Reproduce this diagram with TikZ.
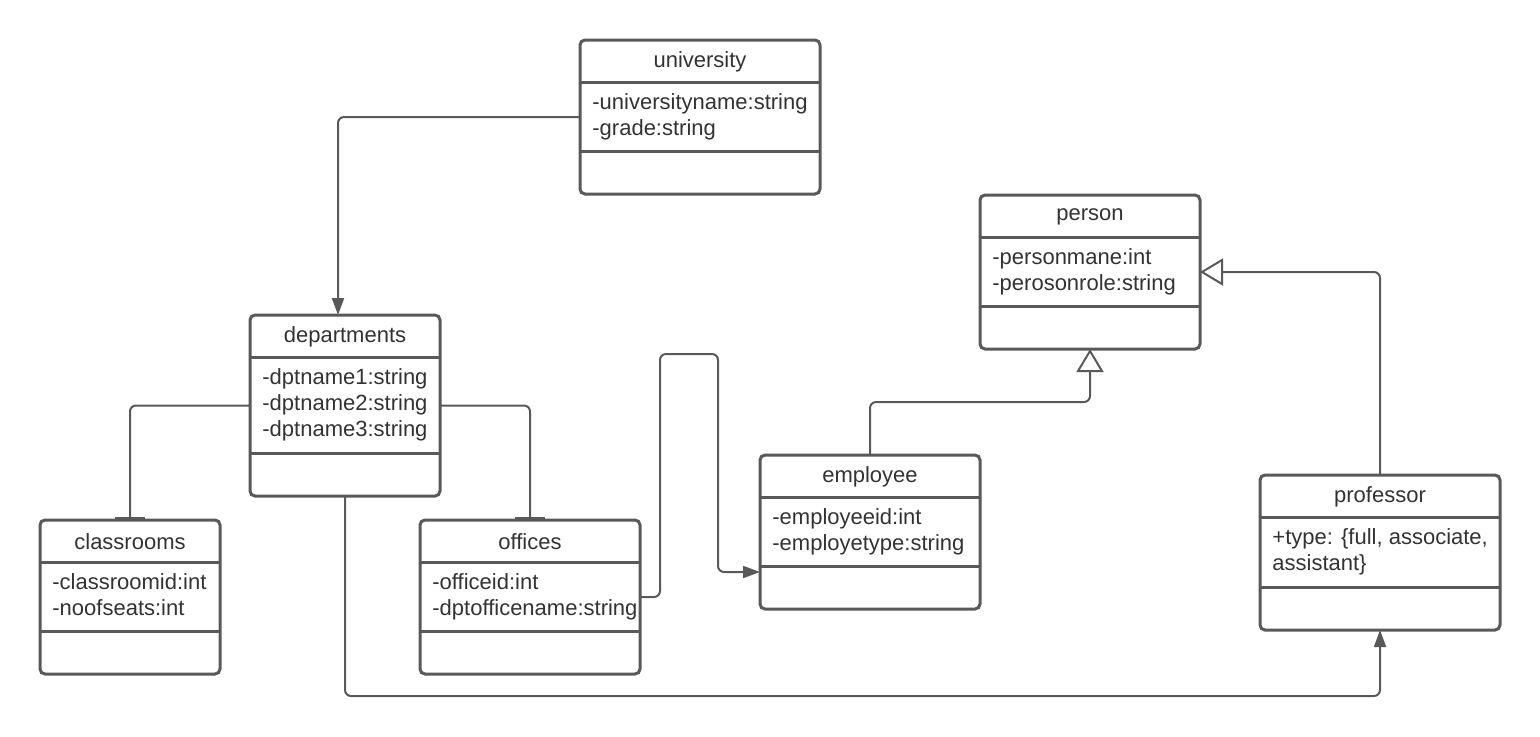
\documentclass[tikz,border=0pt]{standalone}
\usepackage{fontspec}
\setmainfont{Liberation Sans}
\usetikzlibrary{arrows.meta,calc}

\definecolor{umlgray}{HTML}{595959}
\definecolor{umltext}{HTML}{333333}

% one class box: name, left, top, width, attribute height, title, attributes
\newcommand{\umlclass}[7]{%
    \node[classbox, minimum width=#4*0.5pt, minimum height=(85+#5)*0.5pt, anchor=north west] (#1) at (#2,#3) {};
    \draw[classline] (#2,#3+42) -- (#2+#4,#3+42);
    \draw[classline] (#2,#3+42+#5) -- (#2+#4,#3+42+#5);
    \node[classtitle] (#1-title) at (#2+#4/2,#3+22) {#6};
    \node[classattr] (#1-attr) at (#2+12,#3+53) {#7};
}

\begin{document}
\begin{tikzpicture}[x=0.5pt, y=-0.5pt,
    font=\fontsize{11}{13}\selectfont, text=umltext,
    classbox/.style={draw=umlgray, line width=1.5pt, rounded corners=2.5pt, fill=white, inner sep=0pt, outer sep=0pt},
    classline/.style={draw=umlgray, line width=1.5pt},
    classtitle/.style={inner sep=0pt},
    classattr/.style={anchor=north west, align=left, inner sep=0pt},
    link/.style={draw=umlgray, line width=1pt, rounded corners=3pt},
    assoc/.style={link, -{Triangle[length=8.5pt, width=6pt]}},
    compose/.style={link, -{Bar[width=15pt, line width=1.5pt]}},
    inherit/.style={link, -{Triangle[open, length=11.5pt, width=13.5pt, line width=1pt]}}]

    \useasboundingbox (0,0) rectangle (1540,736);

    % Classes
    \umlclass{university}{580}{40}{240}{69}{university}{-universityname:string\\-grade:string}
    \umlclass{person}{980}{195}{220}{69}{person}{-personmane:int\\-perosonrole:string}
    \umlclass{departments}{250}{315}{190}{96}{departments}{-dptname1:string\\-dptname2:string\\-dptname3:string}
    \umlclass{classrooms}{40}{520}{180}{69}{classrooms}{-classroomid:int\\-noofseats:int}
    \umlclass{offices}{420}{520}{220}{69}{offices}{-officeid:int\\-dptofficename:string}
    \umlclass{employee}{760}{455}{220}{69}{employee}{-employeeid:int\\-employetype:string}
    \umlclass{professor}{1260}{475}{240}{70}{professor}{+type: \{full, associate,\\assistant\}}

    % Associations
    \draw[assoc] (university.west) -| ([xshift=-3.5pt]departments.north);
    \draw[compose] (departments.west) -| (classrooms.north);
    \draw[compose] (departments.east) -| (offices.north);
    \draw[assoc] (offices.east) -- ++(20,0) |- ++(58,-243) |- ($(employee.west)+(0,40)$);
    \draw[assoc] (departments.south) -- ++(0,200) -| (professor.south);

    % Generalization
    \draw[inherit] (employee.north) -- ++(0,-53) -| (person.south);
    \draw[inherit] (professor.north) |- (person.east);

\end{tikzpicture}
\end{document}
